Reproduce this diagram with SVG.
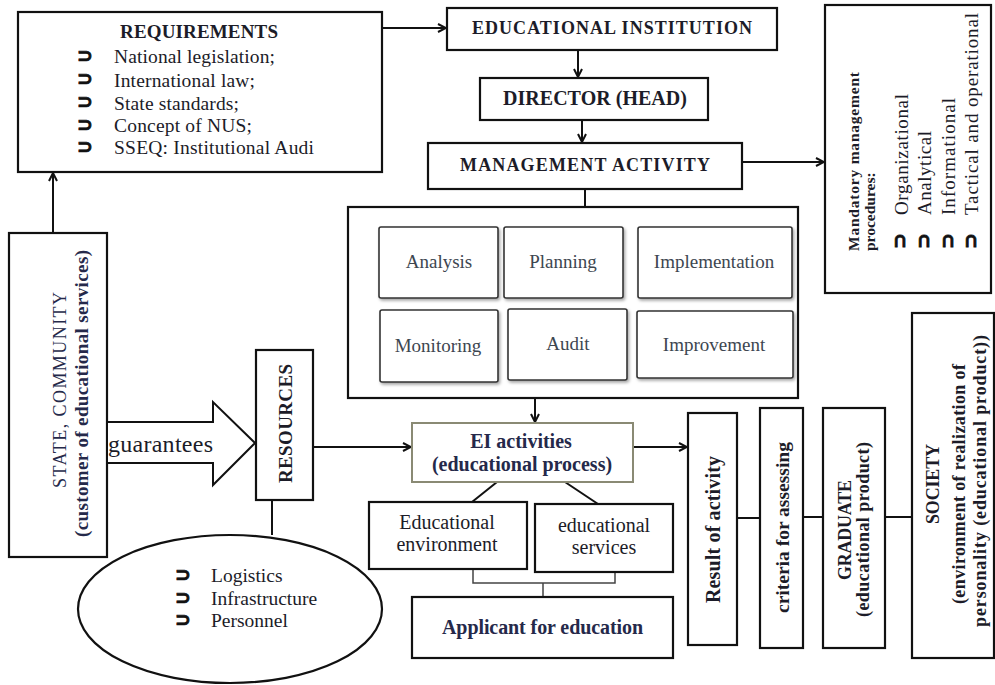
<svg xmlns="http://www.w3.org/2000/svg" width="995" height="685" viewBox="0 0 995 685" font-family="Liberation Serif, Times New Roman, serif">
<style>
.box{fill:#fff;stroke:#111;stroke-width:2.2}
.ibox{fill:#fff;stroke:#333;stroke-width:1.6}
.t{fill:#1c1c28}
.b{font-weight:bold}
.g{fill:#3d4650}
.n{fill:#25294a}
.bul{font-weight:bold;fill:#111;font-family:"DejaVu Sans",sans-serif;stroke:#111;stroke-width:0.8}
.ln{stroke:#111;stroke-width:2;fill:none}
</style>
<defs>
<marker id="ar" viewBox="0 0 10 10" refX="9" refY="5" markerWidth="10" markerHeight="10" markerUnits="userSpaceOnUse" orient="auto">
<path d="M1,1 L9,5 L1,9" fill="none" stroke="#111" stroke-width="2"/>
</marker>
<filter id="sh" x="-10%" y="-10%" width="130%" height="130%">
<feDropShadow dx="1.5" dy="2" stdDeviation="1.5" flood-color="#000" flood-opacity="0.35"/>
</filter>
</defs>

<g id="connectors">
<line class="ln" x1="382" y1="28" x2="446" y2="28" marker-end="url(#ar)"/>
<line class="ln" x1="578" y1="50" x2="578" y2="77" marker-end="url(#ar)"/>
<line class="ln" x1="582" y1="120" x2="582" y2="142" marker-end="url(#ar)"/>
<line class="ln" x1="742" y1="162" x2="824" y2="162" marker-end="url(#ar)"/>
<line class="ln" x1="585" y1="189" x2="585" y2="207"/>
<line class="ln" x1="53" y1="233" x2="53" y2="173" marker-end="url(#ar)"/>
<line class="ln" x1="535" y1="398" x2="535" y2="422" marker-end="url(#ar)"/>
<line class="ln" x1="313" y1="447" x2="411" y2="447" marker-end="url(#ar)"/>
<line class="ln" x1="633" y1="447" x2="687" y2="447" marker-end="url(#ar)"/>
<line class="ln" x1="272" y1="500" x2="272" y2="535"/>
<line class="ln" x1="497" y1="482" x2="472" y2="502"/>
<line class="ln" x1="565" y1="482" x2="598" y2="504"/>
<path d="M473,569 V583 H615 V572 M543,583 V597" fill="none" stroke="#444" stroke-width="1.5"/>
<line class="ln" x1="737" y1="518" x2="760" y2="518"/>
<line class="ln" x1="803" y1="517" x2="823" y2="517"/>
<line class="ln" x1="885" y1="517" x2="912" y2="517"/>
</g>

<g id="requirements">
<rect class="box" x="18" y="12" width="364" height="160"/>
<text class="t b" x="120" y="38" font-size="19" textLength="158">REQUIREMENTS</text>
<g class="bul" font-size="19">
<text x="77" y="62">⊃</text><text x="77" y="85">⊃</text><text x="77" y="108">⊃</text><text x="77" y="131">⊃</text><text x="77" y="153">⊃</text>
</g>
<g class="t" font-size="19.5">
<text x="114" y="63" textLength="161">National legislation;</text>
<text x="114" y="87" textLength="141">International law;</text>
<text x="114" y="110" textLength="125">State standards;</text>
<text x="114" y="132" textLength="138">Concept of NUS;</text>
<text x="114" y="154" textLength="200">SSEQ: Institutional Audi</text>
</g>
</g>

<g id="educational-institution">
<rect class="box" x="447" y="8" width="330" height="42"/>
<text class="t b" x="472" y="34" font-size="18" textLength="280">EDUCATIONAL  INSTITUTION</text>
</g>

<g id="director">
<rect class="box" x="480" y="78" width="228" height="42"/>
<text class="t b" x="503" y="105" font-size="20" textLength="184">DIRECTOR (HEAD)</text>
</g>

<g id="management-activity">
<rect class="box" x="428" y="143" width="314" height="46"/>
<text class="t b" x="460" y="171" font-size="18" textLength="250">MANAGEMENT  ACTIVITY</text>
</g>

<g id="mandatory">
<rect class="box" x="825" y="5" width="166" height="288"/>
<text class="t b" font-size="15.5" transform="translate(859,251) rotate(-90)" textLength="179">Mandatory management</text>
<text class="t b" font-size="15.5" transform="translate(875,251) rotate(-90)">procedures:</text>
<g class="bul" font-size="19">
<text transform="translate(906,249) rotate(-90)">⊃</text>
<text transform="translate(930,249) rotate(-90)">⊃</text>
<text transform="translate(954,249) rotate(-90)">⊃</text>
<text transform="translate(977,249) rotate(-90)">⊃</text>
</g>
<g class="t" font-size="19">
<text transform="translate(908,215) rotate(-90)" textLength="121">Organizational</text>
<text transform="translate(931,215) rotate(-90)" textLength="84">Analytical</text>
<text transform="translate(955,215) rotate(-90)" textLength="117">Informational</text>
<text transform="translate(978,215) rotate(-90)" textLength="202">Tactical  and  operational</text>
</g>
</g>

<g id="management-functions">
<rect class="box" x="348" y="207" width="450" height="191"/>
<g filter="url(#sh)">
<rect class="ibox" x="379" y="227" width="119" height="71" rx="2"/>
<rect class="ibox" x="504" y="227" width="119" height="71" rx="2"/>
<rect class="ibox" x="638" y="227" width="154" height="71" rx="2"/>
<rect class="ibox" x="380" y="310" width="118" height="72" rx="2"/>
<rect class="ibox" x="508" y="309" width="119" height="71" rx="2"/>
<rect class="ibox" x="637" y="311" width="156" height="67" rx="2"/>
</g>
<g class="t g" font-size="19" text-anchor="middle">
<text x="439" y="268">Analysis</text>
<text x="563" y="268">Planning</text>
<text x="714" y="268">Implementation</text>
<text x="438" y="352">Monitoring</text>
<text x="568" y="350">Audit</text>
<text x="714" y="351">Improvement</text>
</g>
</g>

<g id="state-community">
<rect class="box" x="9" y="233" width="98" height="324"/>
<text class="t n" font-size="18" transform="translate(66,488) rotate(-90)" textLength="196">STATE, COMMUNITY</text>
<text class="t b n" font-size="19" transform="translate(88,537) rotate(-90)" textLength="287">(customer of educational services)</text>
</g>

<g id="guarantees">
<polygon points="107,422 213,422 213,402 255,443 213,485 213,463 107,463" fill="#fff" stroke="#111" stroke-width="2"/>
<text class="t" x="108" y="452" font-size="24" textLength="105">guarantees</text>
</g>

<g id="resources">
<rect class="box" x="256" y="350" width="57" height="150"/>
<text class="t b" font-size="19" transform="translate(292,483) rotate(-90)" textLength="119">RESOURCES</text>
</g>

<g id="resources-list">
<ellipse cx="230" cy="609" rx="152" ry="74" fill="#fff" stroke="#111" stroke-width="2.2"/>
<g class="bul" font-size="19">
<text x="175" y="581">⊃</text><text x="175" y="604">⊃</text><text x="175" y="626">⊃</text>
</g>
<g class="t" font-size="19.5">
<text x="211" y="582">Logistics</text>
<text x="211" y="605">Infrastructure</text>
<text x="211" y="627">Personnel</text>
</g>
</g>

<g id="ei-activities">
<rect x="412" y="423" width="221" height="59" fill="#fff" stroke="#8a8a74" stroke-width="2"/>
<text class="t b n" x="521" y="448" font-size="20" text-anchor="middle">EI activities</text>
<text class="t b n" x="522" y="471" font-size="20" text-anchor="middle">(educational process)</text>
</g>

<g id="educational-environment">
<rect class="box" x="369" y="502" width="158" height="67"/>
<text class="t" x="447" y="529" font-size="20" text-anchor="middle" fill="#3a3030">Educational</text>
<text class="t" x="447" y="551" font-size="20" text-anchor="middle" fill="#3a3030">environment</text>
</g>

<g id="educational-services">
<rect class="box" x="535" y="504" width="138" height="68"/>
<text class="t" x="604" y="532" font-size="20" text-anchor="middle" fill="#3a3030">educational</text>
<text class="t" x="604" y="554" font-size="20" text-anchor="middle" fill="#3a3030">services</text>
</g>

<g id="applicant">
<rect class="box" x="412" y="597" width="261" height="61"/>
<text class="t b n" x="442" y="634" font-size="20" textLength="201">Applicant  for  education</text>
</g>

<g id="result">
<rect class="box" x="688" y="413" width="49" height="232"/>
<text class="t b" font-size="20" transform="translate(720,603) rotate(-90)" textLength="147">Result of activity</text>
</g>

<g id="criteria">
<rect class="box" x="760" y="408" width="43" height="240"/>
<text class="t b" font-size="19.5" transform="translate(789,613) rotate(-90)" textLength="171">criteria  for  assessing</text>
</g>

<g id="graduate">
<rect class="box" x="823" y="408" width="62" height="240"/>
<text class="t b" font-size="18" transform="translate(851,580) rotate(-90)" textLength="100">GRADUATE</text>
<text class="t b" font-size="18" transform="translate(869,617) rotate(-90)" textLength="175">(educational product)</text>
</g>

<g id="society">
<rect class="box" x="912" y="313" width="82" height="345"/>
<text class="t b" font-size="18" transform="translate(939,524) rotate(-90)" textLength="80">SOCIETY</text>
<text class="t b" font-size="18" transform="translate(965,604) rotate(-90)" textLength="240">(environment  of realization of</text>
<text class="t b" font-size="18" transform="translate(986,627) rotate(-90)" textLength="292">personality  (educational product))</text>
</g>
</svg>
